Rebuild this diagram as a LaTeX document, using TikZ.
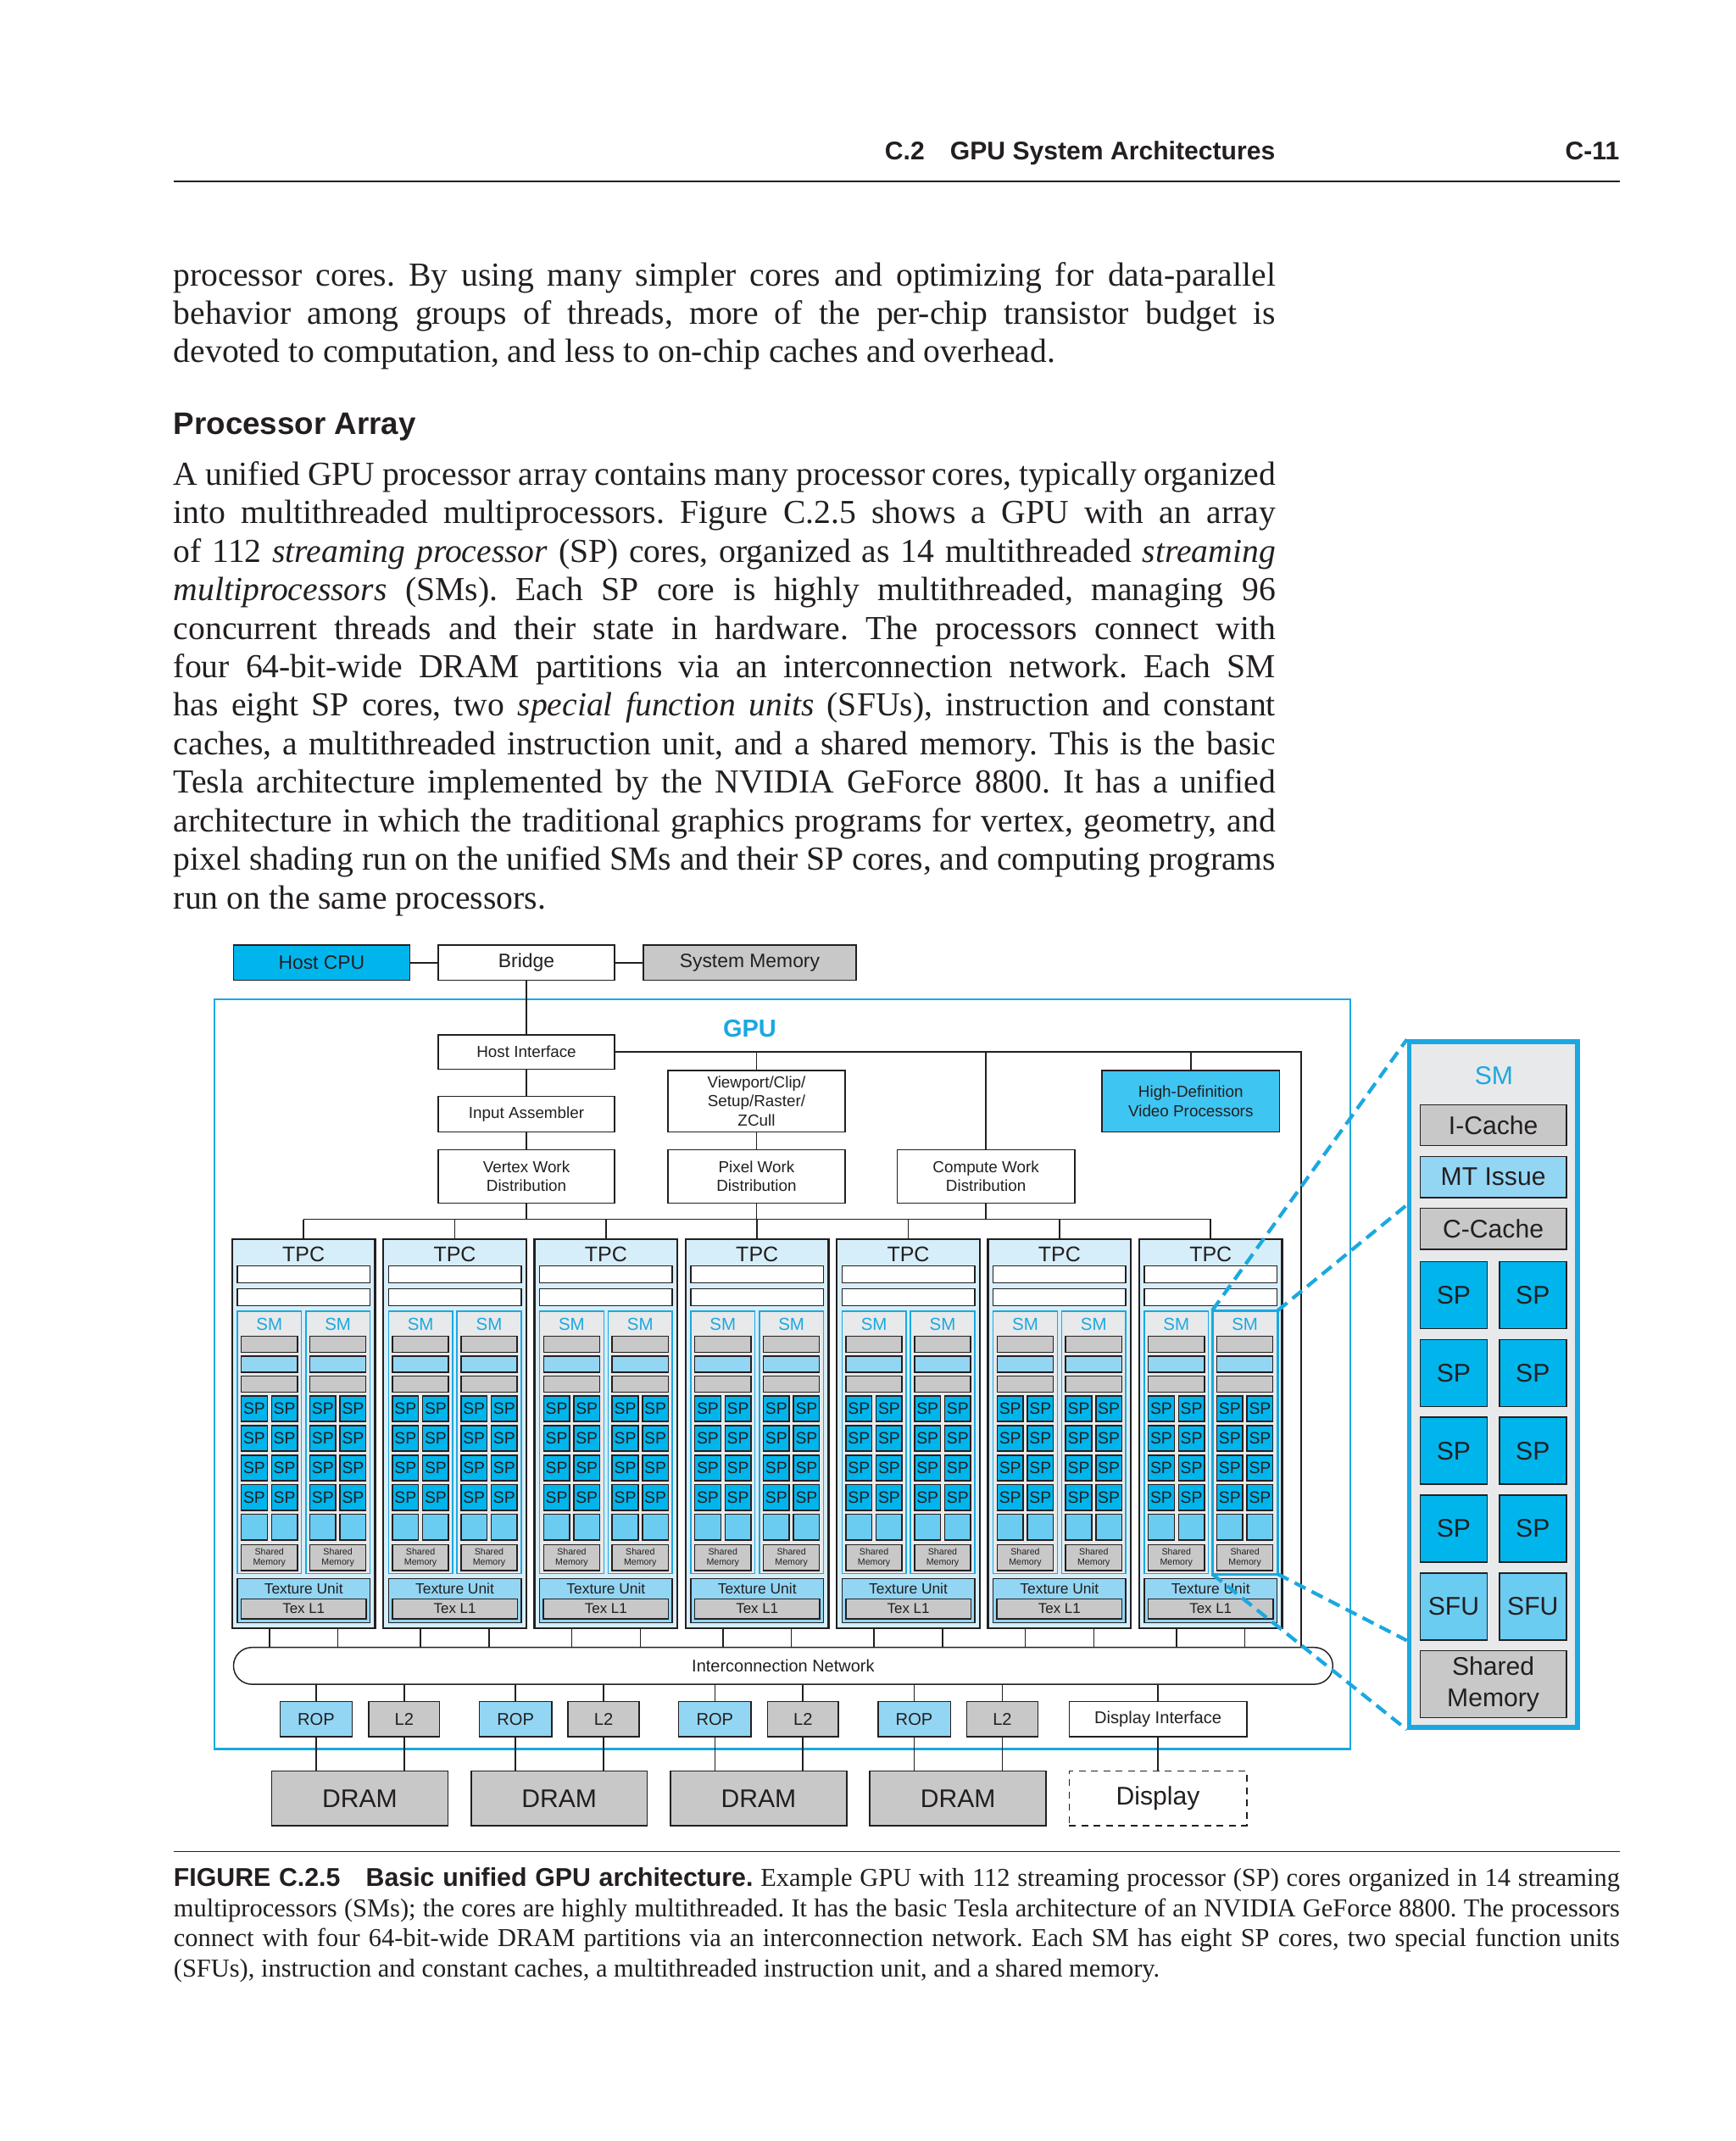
\documentclass[tikz,border=0pt]{standalone}
\usepackage{fontspec}
\setmainfont{Liberation Serif}
\setsansfont{Liberation Sans}
\usetikzlibrary{positioning,shapes.misc}

\definecolor{ink}{HTML}{231F20}
\definecolor{gpublue}{HTML}{1BA8E0}
\definecolor{spcyan}{HTML}{00B5EC}
\definecolor{hdcyan}{HTML}{3EC5F1}
\definecolor{paleblue}{HTML}{93D6F4}
\definecolor{sfublue}{HTML}{6ACCF1}
\definecolor{tpcfill}{HTML}{D6EEF9}
\definecolor{smfill}{HTML}{E8E9EB}
\definecolor{unitgray}{HTML}{C8C8C9}

\hyphenpenalty=10000
\exhyphenpenalty=10000
\frenchspacing

\begin{document}
\begin{tikzpicture}[
    x=1pt, y=-1pt,
    wire/.style={draw=ink, line width=1pt},
    blk/.style={draw=ink, line width=0.9pt, inner sep=0pt, align=center, text=ink},
    sysbox/.style={blk, minimum width=129, minimum height=26, font=\sffamily\fontsize{14.2}{16}\selectfont},
    stage/.style={blk, fill=white, minimum width=129, font=\sffamily\fontsize{11.7}{14}\selectfont},
    tpcbox/.style={blk, fill=tpcfill, line width=1.4pt, minimum width=104.7, minimum height=285},
    tpctext/.style={text=ink, inner sep=0pt, font=\sffamily\fontsize{15.5}{16}\selectfont},
    whitebar/.style={blk, fill=white, minimum width=97.2, minimum height=12.4},
    smbox/.style={draw=gpublue, line width=0.9pt, fill=smfill, inner sep=0pt, minimum width=47, minimum height=192},
    smtext/.style={text=gpublue, inner sep=0pt, font=\sffamily\fontsize{12.7}{13}\selectfont},
    cachebar/.style={blk, fill=unitgray, minimum width=41.1, minimum height=11.8},
    issuebar/.style={cachebar, fill=paleblue},
    spcell/.style={blk, fill=spcyan, minimum width=19, minimum height=18.7, font=\sffamily\fontsize{12}{12}\selectfont},
    sfucell/.style={spcell, fill=sfublue},
    shmem/.style={blk, fill=unitgray, minimum width=41.1, minimum height=19, font=\sffamily\fontsize{6.6}{7.8}\selectfont},
    texunit/.style={blk, fill=paleblue, minimum width=97.2, minimum height=32.5},
    textext/.style={text=ink, inner sep=0pt, font=\sffamily\fontsize{10.8}{11}\selectfont},
    texl1/.style={blk, fill=unitgray, minimum width=91.5, minimum height=14.6, font=\sffamily\fontsize{10.5}{11}\selectfont},
    netbus/.style={blk, rounded rectangle, fill=white, minimum width=805, minimum height=27, font=\sffamily\fontsize{12.4}{13}\selectfont},
    partbox/.style={blk, minimum height=26, font=\sffamily\fontsize{12.5}{13}\selectfont},
    dram/.style={blk, fill=unitgray, line width=1.1pt, minimum width=129, minimum height=40, font=\sffamily\fontsize{18.7}{20}\selectfont},
    gpuframe/.style={draw=gpublue, line width=1.5pt, minimum width=832, minimum height=549, inner sep=0pt},
    zoomframe/.style={draw=gpublue, line width=3.5pt, fill=smfill, minimum width=123, minimum height=502, inner sep=0pt},
    zoomunit/.style={blk, minimum width=107, minimum height=30, font=\sffamily\fontsize{18.7}{23}\selectfont},
    zoomcell/.style={zoomunit, fill=spcyan, minimum width=49, minimum height=49},
    zoomline/.style={draw=gpublue, line width=2.6pt, dash pattern=on 9pt off 5pt},
    headtext/.style={text=ink, inner sep=0pt, font=\sffamily\bfseries\fontsize{18.7}{20}\selectfont},
    para/.style={anchor=north west, inner sep=0pt, text width=807pt, align=justify, text=ink, font=\fontsize{24.6}{28.2}\selectfont},
    capt/.style={para, text width=1059pt, font=\fontsize{18.9}{22.3}\selectfont}
]

\fill[white] (0,0) rectangle (1271,1568);
\useasboundingbox (0,0) rectangle (1271,1568);

% Running head
\node[headtext, anchor=base east] (runhead) at (934,117) {C.2\quad GPU System Architectures};
\node[headtext, anchor=base east] (pageno) at (1186,117) {C-11};
\draw[ink, line width=1.3pt] (127,133) -- (1186,133);

% Text
\node[para] (introtext) at (127,189.3) {\strut processor cores. By using many simpler cores and optimizing for data-parallel\linebreak
behavior among groups of threads, more of the per-chip transistor budget is\linebreak
devoted to computation, and less to on-chip caches and overhead.};

\node[headtext, anchor=base west, font=\sffamily\bfseries\fontsize{22.8}{24}\selectfont] (sechead) at (127,318) {Processor Array};

\node[para] (arraytext) at (127,335.3) {\strut A unified GPU processor array contains many processor cores, typically organized\linebreak
into multithreaded multiprocessors. Figure C.2.5 shows a GPU with an array\linebreak
of 112 \textit{streaming processor} (SP) cores, organized as 14 multithreaded \textit{streaming}\linebreak
\textit{multiprocessors} (SMs). Each SP core is highly multithreaded, managing 96\linebreak
concurrent threads and their state in hardware. The processors connect with\linebreak
four 64-bit-wide DRAM partitions via an interconnection network. Each SM\linebreak
has eight SP cores, two \textit{special function units} (SFUs), instruction and constant\linebreak
caches, a multithreaded instruction unit, and a shared memory. This is the basic\linebreak
Tesla architecture implemented by the NVIDIA GeForce 8800. It has a unified\linebreak
architecture in which the traditional graphics programs for vertex, geometry, and\linebreak
pixel shading run on the unified SMs and their SP cores, and computing programs\linebreak
run on the same processors.};

% =====================================================
% HOST SIDE
% =====================================================

\node[sysbox, fill=spcyan] (hostcpu) at (235.5,705) {Host CPU};
\node[sysbox, fill=white] (bridge) at (385.5,705) {Bridge};
\node[sysbox, fill=unitgray, minimum width=156] (sysmem) at (549,705) {System Memory};
\draw[wire] (hostcpu) -- (bridge);
\draw[wire] (bridge) -- (sysmem);

% =====================================================
% GPU
% =====================================================

\node[gpuframe] (gpu) at (573,1006.5) {};
\node[text=gpublue, font=\sffamily\bfseries\fontsize{18}{18}\selectfont] (gputitle) at (549,753) {GPU};

\node[stage, minimum height=25] (hostif) at (385.5,770.5) {Host Interface};
\node[stage, minimum height=26] (inasm) at (385.5,816) {Input Assembler};
\node[stage, minimum width=130, minimum height=45] (raster) at (554,806.5) {Viewport/Clip/\\Setup/Raster/\\ZCull};
\node[stage, fill=hdcyan, minimum width=130, minimum height=45] (hdvp) at (872,806.5) {High-Definition\\Video Processors};
\node[stage, minimum height=39] (vwd) at (385.5,861.5) {Vertex Work\\Distribution};
\node[stage, minimum width=130, minimum height=39] (pwd) at (554,861.5) {Pixel Work\\Distribution};
\node[stage, minimum width=130, minimum height=39] (cwd) at (722,861.5) {Compute Work\\Distribution};

\node[netbus] (net) at (573.5,1220) {Interconnection Network};

\coordinate (hostbus) at (953,770.5);
\coordinate (tpcbusL) at (222,893);
\coordinate (tpcbusR) at (887,893);

\draw[wire] (bridge) -- (hostif);
\draw[wire] (hostif) -- (inasm);
\draw[wire] (inasm) -- (vwd);
\draw[wire] (raster) -- (pwd);
\draw[wire] (hostif.east) -- (hostbus) -- (hostbus |- net.north);
\foreach \n in {raster,cwd,hdvp}
    \draw[wire] (\n.north) -- (\n.north |- hostbus);
\draw[wire] (tpcbusL) -- (tpcbusR);
\foreach \n in {vwd,pwd,cwd}
    \draw[wire] (\n.south) -- (\n.south |- tpcbusL);

% TPCs
\foreach \i in {1,...,7}{
    \pgfmathsetmacro{\tpx}{222.35+110.7*(\i-1)}
    \node[tpcbox] (tpc\i) at (\tpx,1050) {};
    \node[tpctext] (tpcname\i) at (\tpx,918.5) {TPC};
    \node[whitebar] (tpcbarA\i) at (\tpx,933.3) {};
    \node[whitebar] (tpcbarB\i) at (\tpx,950) {};
    \draw[wire] (tpc\i.north) -- (tpc\i.north |- tpcbusL);
    \foreach \j in {1,2}{
        \pgfmathsetmacro{\smx}{\tpx+25.1*(2*\j-3)}
        \node[smbox] (sm\i-\j) at (\smx,1056.3) {};
        \node[smtext] (smname\i-\j) at (\smx,970) {SM};
        \node[cachebar] (icbar\i-\j) at (\smx,984.4) {};
        \node[issuebar] (mtbar\i-\j) at (\smx,999.1) {};
        \node[cachebar] (ccbar\i-\j) at (\smx,1013.7) {};
        \foreach \r in {1,...,4}
            \foreach \c in {1,2}
                \node[spcell] (sp\i-\j-\r\c) at ({\smx+11.05*(2*\c-3)},{1031.7+21.67*(\r-1)}) {SP};
        \foreach \c in {1,2}
            \node[sfucell] (sfu\i-\j-\c) at ({\smx+11.05*(2*\c-3)},1118.4) {};
        \node[shmem] (shm\i-\j) at (\smx,1140.7) {Shared\\Memory};
        \draw[wire] (sm\i-\j.south |- tpc\i.south) -- (sm\i-\j.south |- net.north);
    }
    \node[texunit] (tex\i) at (\tpx,1172.25) {};
    \node[textext] (texname\i) at (\tpx,1163.7) {Texture Unit};
    \node[texl1] (texl\i) at (\tpx,1178.3) {Tex L1};
}
\draw[gpublue, line width=1.8pt] (sm7-2.north west) rectangle (sm7-2.south east);

% Memory partitions
\foreach \k in {1,...,4}{
    \pgfmathsetmacro{\dx}{263.5+146*(\k-1)}
    \node[partbox, fill=paleblue, minimum width=53] (rop\k) at ({\dx-32},1259) {ROP};
    \node[partbox, fill=unitgray, minimum width=52] (ltwo\k) at ({\dx+32.5},1259) {L2};
    \node[dram] (dram\k) at (\dx,1317) {DRAM};
    \foreach \p in {rop\k,ltwo\k}{
        \draw[wire] (\p.north |- net.south) -- (\p.north);
        \draw[wire] (\p.south) -- (\p.south |- dram\k.north);
    }
}

\node[partbox, fill=white, minimum width=130] (dispif) at (848,1259) {Display Interface};
\node[dram, fill=white, dash pattern=on 5pt off 4pt, minimum width=130] (display) at (848,1317) {Display};
\draw[wire] (dispif.north |- net.south) -- (dispif);
\draw[wire] (dispif) -- (display);

% =====================================================
% SM DETAIL
% =====================================================

\node[zoomframe] (smzoom) at (1093.5,1014) {};
\node[text=gpublue, font=\sffamily\fontsize{18.7}{19}\selectfont] (smzoomname) at (1094,788) {SM};
\node[zoomunit, fill=unitgray] (icache) at (1093.5,824) {I-Cache};
\node[zoomunit, fill=paleblue] (mtissue) at (1093.5,862) {MT Issue};
\node[zoomunit, fill=unitgray] (ccache) at (1093.5,900) {C-Cache};
\foreach \r in {1,...,4}
    \foreach \c in {1,2}
        \node[zoomcell] (zsp\r\c) at ({1064.5+58*(\c-1)},{948.5+57*(\r-1)}) {SP};
\foreach \c in {1,2}
    \node[zoomcell, fill=sfublue] (zsfu\c) at ({1064.5+58*(\c-1)},1176.5) {SFU};
\node[zoomunit, fill=unitgray, minimum height=49] (zshm) at (1093.5,1233.5) {Shared\\Memory};

\coordinate (zoomB) at (1032,881);
\draw[zoomline] (sm7-2.north west) -- (smzoom.north west);
\draw[zoomline] (sm7-2.north east) -- (zoomB);
\draw[zoomline] (sm7-2.south west) -- (smzoom.south west);
\draw[zoomline] (sm7-2.south east) -- (smzoom.west |- zsfu1.south);

% =====================================================
% CAPTION
% =====================================================

\draw[ink, line width=1.2pt] (127,1356) -- (1186,1356);
\node[capt] (caption) at (127,1365.4) {\strut{\sffamily\bfseries\fontsize{18.8}{22.3}\selectfont FIGURE C.2.5\quad Basic unified GPU architecture.} Example GPU with 112 streaming processor (SP) cores organized in 14 streaming\linebreak
multiprocessors (SMs); the cores are highly multithreaded. It has the basic Tesla architecture of an NVIDIA GeForce 8800. The processors\linebreak
connect with four 64-bit-wide DRAM partitions via an interconnection network. Each SM has eight SP cores, two special function units\linebreak
(SFUs), instruction and constant caches, a multithreaded instruction unit, and a shared memory.};

\end{tikzpicture}
\end{document}
